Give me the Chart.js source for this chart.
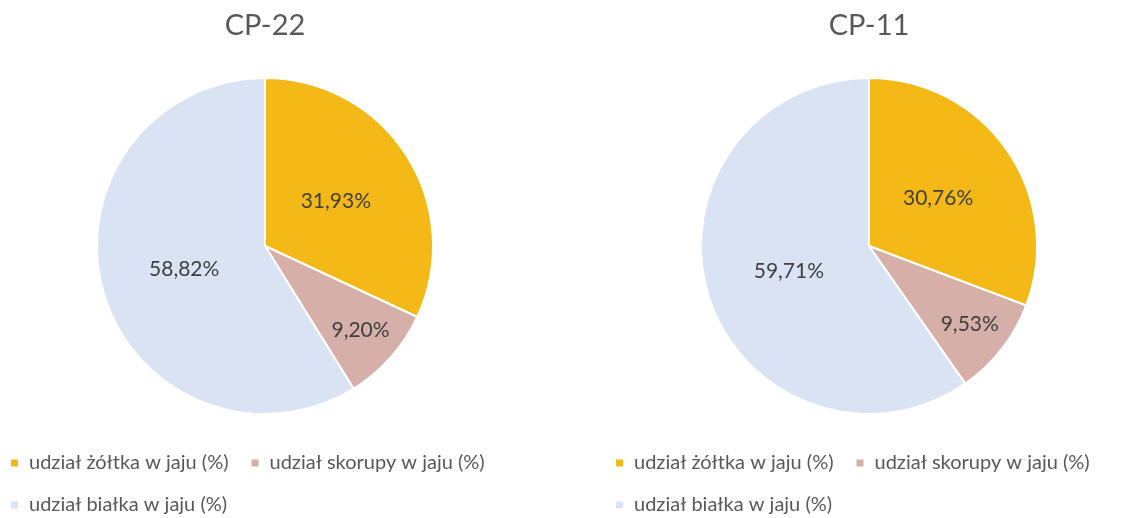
<!DOCTYPE html>
<html>
<head>
<meta charset="utf-8">
<script src="https://cdn.jsdelivr.net/npm/chart.js@4/dist/chart.umd.min.js"></script>
<style>
  html, body { margin: 0; padding: 0; background: #fff; overflow: hidden; width: 1137px; height: 518px; }
  .box { position: absolute; top: 0; height: 518px; }
  #c1box { left: -12px; width: 554px; }
  #c2box { left: 593px; width: 552px; }
</style>
</head>
<body>
<div class="box" id="c1box"><canvas id="c1"></canvas></div>
<div class="box" id="c2box"><canvas id="c2"></canvas></div>
<script>
const categories = ['udział żółtka w jaju (%)', 'udział skorupy w jaju (%)', 'udział białka w jaju (%)'];
const chartTitles = ['CP-22', 'CP-11'];
const valuesCP22 = [31.93, 9.20, 58.82];
const valuesCP11 = [30.76, 9.53, 59.71];
const sliceColors = ['#F4B917', '#D5AFA8', '#DAE3F3'];

const FONT = 'Lato, "Open Sans", sans-serif';

const labelPlugin = {
  id: 'sliceLabels',
  afterDatasetsDraw(chart) {
    const ctx = chart.ctx;
    const meta = chart.getDatasetMeta(0);
    const data = chart.data.datasets[0].data;
    const total = data.reduce((a, b) => a + b, 0);
    ctx.save();
    ctx.font = '21px ' + FONT;
    ctx.fillStyle = '#404040';
    ctx.textAlign = 'center';
    ctx.textBaseline = 'middle';
    meta.data.forEach((arc, i) => {
      const p = arc.getProps(['x', 'y', 'startAngle', 'endAngle', 'outerRadius'], true);
      const mid = (p.startAngle + p.endAngle) / 2;
      const frac = data[i] / total;
      const r = p.outerRadius * (frac < 0.15 ? 0.76 : 0.5);
      const txt = data[i].toFixed(2).replace('.', ',') + '%';
      ctx.fillText(txt, p.x + Math.cos(mid) * r, p.y + Math.sin(mid) * r);
    });
    ctx.restore();
  }
};

function makeChart(id, title, values) {
  return new Chart(document.getElementById(id), {
    type: 'pie',
    data: {
      labels: categories,
      datasets: [{
        data: values,
        backgroundColor: sliceColors,
        borderColor: '#ffffff',
        borderWidth: 2,
        radius: 168
      }]
    },
    options: {
      responsive: true,
      maintainAspectRatio: false,
      animation: false,
      layout: { padding: 0 },
      plugins: {
        title: {
          display: true,
          text: title,
          color: '#595959',
          font: { family: FONT, size: 29, weight: 'normal' },
          padding: { top: 8, bottom: 18.2 }
        },
        legend: {
          display: true,
          position: 'bottom',
          align: 'start',
          maxHeight: 87,
          labels: {
            color: '#595959',
            font: { family: FONT, size: 20 },
            boxWidth: 9,
            boxHeight: 9,
            padding: 22
          }
        },
        tooltip: { enabled: false }
      }
    },
    plugins: [labelPlugin]
  });
}

makeChart('c1', chartTitles[0], valuesCP22);
makeChart('c2', chartTitles[1], valuesCP11);
</script>
</body>
</html>
